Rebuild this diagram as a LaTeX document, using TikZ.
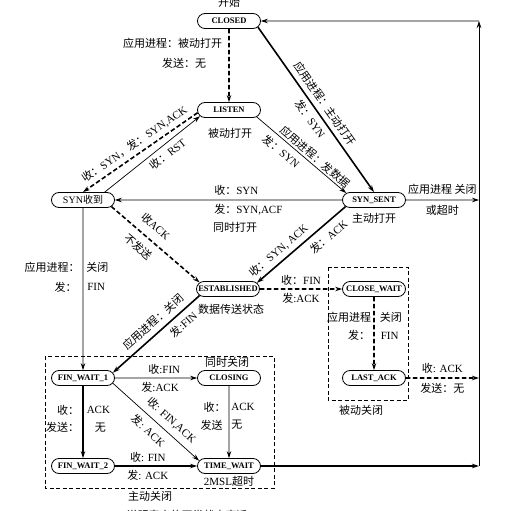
\documentclass[tikz,border=0pt]{standalone}
\usepackage{fontspec}
\setmainfont{Liberation Serif}
\newfontfamily\zhfont{Noto Sans CJK SC}
\newcommand{\zh}[1]{{\zhfont #1}}
\usetikzlibrary{shapes.misc,arrows.meta}
\begin{document}
\begin{tikzpicture}[x=1pt,y=-1pt,font=\fontsize{11}{13}\selectfont,inner sep=2pt,
tcpstate/.style={draw,line width=0.8pt,rounded rectangle,minimum width=65pt,minimum height=15pt,inner xsep=1pt,inner ysep=0pt,font=\bfseries\fontsize{8.5}{9}\selectfont},
heavyline/.style={line width=1.6pt,-{Stealth[length=7pt,width=4.5pt]}},
thinline/.style={line width=0.7pt,-{Stealth[length=7pt,width=4.5pt]}},
dashline/.style={heavyline,dash pattern=on 4.5pt off 2.5pt},
boxline/.style={line width=0.6pt,dash pattern=on 4pt off 2.5pt}]
\useasboundingbox (0,0) rectangle (512,511);

\node[tcpstate] (closed) at (229,21) {CLOSED};
\node[tcpstate] (listen) at (229,110) {LISTEN};
\node[tcpstate,font=\fontsize{10}{12}\selectfont] (synrcvd) at (83,200) {SYN\zh{收到}};
\node[tcpstate] (synsent) at (374,200) {SYN\_SENT};
\node[tcpstate] (estab) at (228,289) {ESTABLISHED};
\node[tcpstate] (closewait) at (374,289) {CLOSE\_WAIT};
\node[tcpstate] (lastack) at (374,378) {LAST\_ACK};
\node[tcpstate] (finwait1) at (83,378) {FIN\_WAIT\_1};
\node[tcpstate] (closing) at (229,378) {CLOSING};
\node[tcpstate] (finwait2) at (83,466) {FIN\_WAIT\_2};
\node[tcpstate] (timewait) at (229,466) {TIME\_WAIT};

\coordinate (rtop) at (479,21);
\coordinate (rsent) at (479,200);
\coordinate (rlast) at (479,378);
\coordinate (rtime) at (479,466);

\node (start) at (229,2) {\zh{开始}};
\node (passopen) at (230,133) {\zh{被动打开}};
\node (actopen) at (374,218) {\zh{主动打开}};
\node (datatx) at (231,309) {\zh{数据传送状态}};
\node (simclose) at (227,362) {\zh{同时关闭}};
\node (msl) at (229,481) {2MSL\zh{超时}};
\node (actclose) at (150,496) {\zh{主动关闭}};
\node (passclose) at (361,410) {\zh{被动关闭}};
\node (caption) at (187,515) {\zh{说明客户的正常状态变迁}};

\draw[boxline] (45,356) rectangle (274,488);
\draw[boxline] (328,267) rectangle (408,400);

\draw[dashline] (closed) -- (listen) node[pos=0.2,left=4pt]{\zh{应用进程：被动打开}} node[pos=0.47,left=20pt]{\zh{发送：无}};
\draw[heavyline] (closed.-12) -- (synsent.north) node[pos=0.5,above=3pt,sloped]{\zh{应用进程：主动打开}} node[pos=0.52,below=2pt,sloped]{\zh{发：}SYN};
\draw[thinline] (listen.-14) -- (synsent.166) node[pos=0.6,above,sloped]{\zh{应用进程：发数据}} node[pos=0.35,below=3pt,sloped]{\zh{发：}SYN};
\draw[dashline] (listen.185) -- (synrcvd.north) node[pos=0.5,above=2pt,sloped]{\zh{收：}SYN\zh{，发：}SYN,ACK};
\draw[thinline] (synrcvd.20) -- (listen.192) node[pos=0.6,below=2pt,sloped]{\zh{收：}RST};
\draw[thinline] (synsent) -- (synrcvd) node[pos=0.573,anchor=south west,yshift=2pt]{\zh{收：}SYN} node[pos=0.573,anchor=north west,yshift=-2pt]{\zh{发：}SYN,ACF};
\node (simopen) at (235,227) {\zh{同时打开}};
\draw[dashline] (synrcvd.-13) -- (estab.167) node[pos=0.4,above=6pt,sloped]{\zh{收}ACK} node[pos=0.4,below=5pt,sloped]{\zh{不发送}};
\draw[heavyline] (synsent.193) -- (estab.12) node[pos=0.68,above=2pt,sloped]{\zh{收：}SYN, ACK} node[pos=0.28,below=4pt,sloped]{\zh{发：}ACK};
\draw[thinline] (synsent) -- (rsent) node[midway,above=3pt]{\zh{应用进程 关闭}} node[midway,below=3pt]{\zh{或超时}};
\draw[thinline] (synrcvd) -- (finwait1) node[pos=0.365,left=1pt]{\zh{应用进程：}} node[pos=0.365,right=1pt]{\zh{关闭}} node[pos=0.49,left=4pt]{\zh{发：}} node[pos=0.49,right=2pt]{FIN};
\draw[heavyline] (estab.193) -- (finwait1.10) node[pos=0.45,above=3pt,sloped]{\zh{应用进程：关闭}} node[pos=0.27,below=3pt,sloped]{\zh{发}:FIN};
\draw[dashline] (estab) -- (closewait) node[midway,above=1pt]{\zh{收：}FIN} node[midway,below=1pt]{\zh{发}:ACK};
\draw[dashline] (closewait) -- (lastack) node[pos=0.277,left=0pt]{\zh{应用进程}} node[pos=0.277,right=3pt]{\zh{关闭}} node[pos=0.53,left=1pt]{\zh{发：}} node[pos=0.53,right=4pt]{FIN};
\draw[dashline] (lastack) -- (rlast) node[midway,above=2pt]{\zh{收}: ACK} node[midway,below=2pt]{\zh{发送：无}};
\draw[thinline] (finwait1) -- (closing) node[pos=0.6,above=1pt]{\zh{收}:FIN} node[pos=0.55,below=2pt]{\zh{发}:ACK};
\draw[thinline] (finwait1.-10) -- (timewait.170) node[pos=0.59,above=4pt,sloped]{\zh{收}: FIN,ACK} node[pos=0.5,below=4pt,sloped]{\zh{发}: ACK};
\draw[heavyline] (finwait1) -- (finwait2) node[pos=0.336,left=1pt]{\zh{收：}} node[pos=0.336,right=1pt]{ACK} node[pos=0.58,left=1pt]{\zh{发送：}} node[pos=0.58,right=9pt]{\zh{无}};
\draw[thinline] (closing) -- (timewait) node[pos=0.295,left=1pt]{\zh{收：}} node[pos=0.295,right=0pt]{ACK} node[pos=0.54,left=4pt]{\zh{发送}} node[pos=0.54,right=0pt]{\zh{无}};
\draw[heavyline] (finwait2) -- (timewait) node[pos=0.4,above=1pt]{\zh{收}: FIN} node[pos=0.4,below=1pt]{\zh{发}: ACK};
\draw[heavyline] (timewait) -- (rtime);
\draw[thinline] (rtime) -- (rtop);
\draw[thinline] (rtop) -- (closed);
\end{tikzpicture}
\end{document}
